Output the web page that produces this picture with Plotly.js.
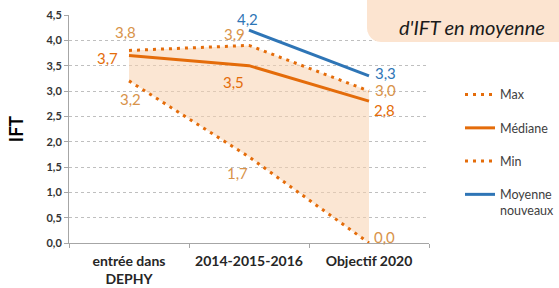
<!DOCTYPE html>
<html><head><meta charset="utf-8">
<script src="https://cdn.plot.ly/plotly-3.0.1.min.js"></script>
<style>html,body{margin:0;padding:0;background:#fff}#c{width:559px;height:288px}</style>
</head><body><div id="c"></div>
<script>
const categories = ["entrée dans<br>DEPHY", "2014-2015-2016", "Objectif 2020"];
const maxVals = [3.8, 3.9, 3.0];
const medVals = [3.7, 3.5, 2.8];
const minVals = [3.2, 1.7, 0.0];
const moyVals = [null, 4.2, 3.3];
const yTicks = [0, 0.5, 1, 1.5, 2, 2.5, 3, 3.5, 4, 4.5];

const fmt = v => v.toFixed(1).replace(".", ",");
const ORANGE = "#E46C0A", TAN = "#D8934A", BLUE = "#2E75B6";
const font = "Lato, 'Open Sans', sans-serif";

// plot area in pixels
const L = 69, R = 429, T = 15, B = 243;
const px = x => (x - L) / (R - L), py = y => (B - y) / (B - T);
function roundRect(x0, y0, x1, y1, r) {
  const pts = [];
  const corners = [[x1 - r, y0 + r, -90], [x1 - r, y1 - r, 0], [x0 + r, y1 - r, 90], [x0 + r, y0 + r, 180]];
  corners.forEach(([cx, cy, a0]) => {
    for (let i = 0; i <= 6; i++) {
      const a = (a0 + i * 15) * Math.PI / 180;
      pts.push(px(cx + r * Math.cos(a)).toFixed(4) + "," + py(cy + r * Math.sin(a)).toFixed(4));
    }
  });
  return "M" + pts.join(" L") + " Z";
}

const common = {mode: "lines", hoverinfo: "skip"};
const traces = [
  Object.assign({x: categories, y: maxVals, name: "Max", legendgroup: "a", legendrank: 1,
   line: {color: ORANGE, width: 3, dash: "3px,5px"}}, common),
  Object.assign({x: categories, y: medVals, name: "Médiane", legendgroup: "b", legendrank: 2,
   line: {color: ORANGE, width: 3}}, common),
  Object.assign({x: categories, y: minVals, name: "Min", legendgroup: "c", legendrank: 3,
   line: {color: ORANGE, width: 3, dash: "3px,5px"}}, common),
  Object.assign({x: categories, y: moyVals, name: "Moyenne<br>nouveaux", legendgroup: "d", legendrank: 4,
   line: {color: BLUE, width: 3}}, common),
  // band between min and max
  {x: categories.concat(categories.slice().reverse()), y: maxVals.concat(minVals.slice().reverse()),
   mode: "lines", fill: "toself", fillcolor: "rgba(248,210,175,0.55)", line: {width: 0},
   showlegend: false, hoverinfo: "skip"}
];
traces.unshift(traces.pop());

// data labels: [series values, colour, x shift, y shift per point]
const labelSets = [
  [maxVals, TAN, [-4, -15, 16], [18, 11, 1]],
  [medVals, ORANGE, [-22, -16, 15], [-2, -16, -9]],
  [minVals, TAN, [1, -12, 15], [-18, -16, 6]],
  [moyVals, BLUE, [0, -2, 16], [0, 11, 3]]
];
const annotations = [];
labelSets.forEach(([vals, col, xs, ys]) => {
  vals.forEach((v, i) => {
    if (v === null) return;
    annotations.push({x: categories[i], y: v, xref: "x", yref: "y", text: fmt(v), showarrow: false,
      xshift: xs[i], yshift: ys[i], font: {family: font, size: 15, color: col}});
  });
});
annotations.push({xref: "paper", yref: "paper", x: px(472), y: py(27), xanchor: "center", yanchor: "middle",
  text: "<i>d'IFT en moyenne</i>", showarrow: false, font: {size: 20, color: "#1a1a1a", family: font}});

const layout = {
  width: 559, height: 288,
  margin: {l: L, r: 559 - R, t: T, b: 288 - B, pad: 0, autoexpand: false},
  paper_bgcolor: "#fff", plot_bgcolor: "#fff",
  separators: ",.",
  font: {family: font, color: "#404040"},
  showlegend: true,
  legend: {x: px(460), xanchor: "left", y: 0.715, yanchor: "top", font: {size: 12.5, color: "#404040"},
           traceorder: "grouped", tracegroupgap: 14, valign: "top", bgcolor: "rgba(0,0,0,0)"},
  xaxis: {type: "category", range: [-0.5, 2.5], showgrid: false, showline: true, linecolor: "#A6A6A6",
          ticks: "outside", tickson: "boundaries", ticklen: 4, tickcolor: "#A6A6A6", ticklabelstandoff: 5,
          tickangle: 0,
          tickfont: {size: 14, color: "#262626", family: font, weight: "bold"}, fixedrange: true},
  yaxis: {range: [0, 4.5], tickvals: yTicks, tickformat: ".1f", showgrid: true, gridcolor: "#BFBFBF",
          griddash: "dot", gridwidth: 1, showline: true, linecolor: "#A6A6A6", zeroline: false,
          ticks: "outside", ticklen: 4, tickcolor: "#A6A6A6",
          tickfont: {size: 11, color: "#333", family: font, weight: "bold"},
          title: {text: "IFT", font: {size: 18, color: "#000", family: font, weight: "bold"}, standoff: 18}},
  shapes: [{type: "path", xref: "paper", yref: "paper", path: roundRect(367, -20, 580, 42, 14),
            fillcolor: "#FCE4D0", line: {width: 0}, layer: "above"}],
  annotations: annotations
};
Plotly.newPlot("c", traces, layout, {displayModeBar: false, staticPlot: true});
</script></body></html>
